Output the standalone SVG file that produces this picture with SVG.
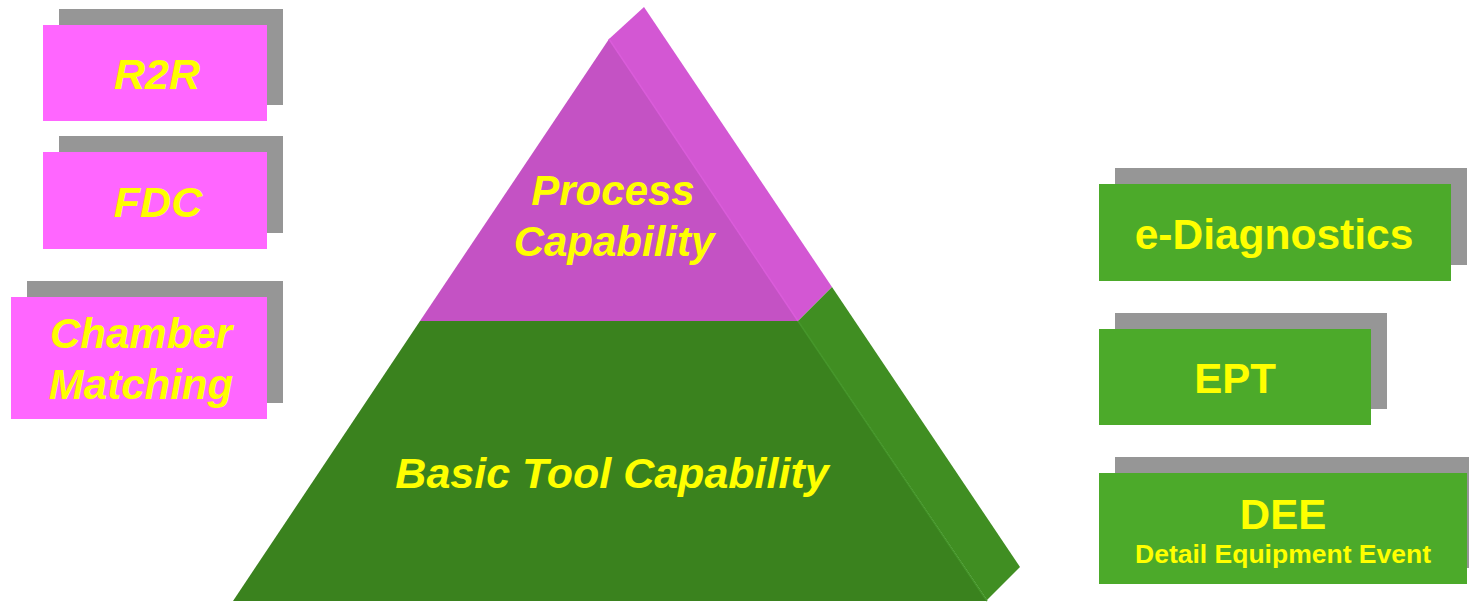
<svg xmlns="http://www.w3.org/2000/svg" width="1469" height="602" viewBox="0 0 1469 602">
<style>
.sh{fill:#969696}
.pk{fill:#FF66FF}
.gr{fill:#4CAA2A}
.t{font-family:"Liberation Sans",Arial,sans-serif;font-weight:bold;fill:#FFFF00;text-anchor:middle}
.i{font-style:italic}
</style>
<rect width="1469" height="602" fill="#FFFFFF"/>
<g id="pyramid">
<polygon points="609,39 644,7 832,287 798,321" fill="#D357D3"/>
<polygon points="798,321 832,287 1020,567 987,600" fill="#408E22"/>
<polygon points="609,39 798,321 420,321" fill="#C452C4"/>
<polygon points="420,321 798,321 987,601 233,601" fill="#3A821E"/>
<line x1="609" y1="39" x2="798" y2="321" stroke="#DA5CDA" stroke-width="1.5"/>
<line x1="798" y1="321" x2="987" y2="601" stroke="#45962A" stroke-width="1.5"/>
<text class="t i" x="613" y="205" font-size="42">Process</text>
<text class="t i" x="614" y="256" font-size="42">Capability</text>
<text class="t i" x="612" y="488" font-size="43">Basic Tool Capability</text>
</g>
<g id="r2r">
<rect class="sh" x="59" y="9" width="224" height="96"/>
<rect class="pk" x="43" y="25" width="224" height="96"/>
<text class="t i" x="157" y="89" font-size="43">R2R</text>
</g>
<g id="fdc">
<rect class="sh" x="59" y="136" width="224" height="97"/>
<rect class="pk" x="43" y="152" width="224" height="97"/>
<text class="t i" x="158" y="217" font-size="43">FDC</text>
</g>
<g id="chamber">
<rect class="sh" x="27" y="281" width="256" height="122"/>
<rect class="pk" x="11" y="297" width="256" height="122"/>
<text class="t i" x="141" y="348" font-size="42">Chamber</text>
<text class="t i" x="141" y="399" font-size="42">Matching</text>
</g>
<g id="ediag">
<rect class="sh" x="1115" y="168" width="352" height="97"/>
<rect class="gr" x="1099" y="184" width="352" height="97"/>
<text class="t" x="1274" y="249" font-size="42.5">e-Diagnostics</text>
</g>
<g id="ept">
<rect class="sh" x="1115" y="313" width="272" height="96"/>
<rect class="gr" x="1099" y="329" width="272" height="96"/>
<text class="t" x="1235" y="393" font-size="42">EPT</text>
</g>
<g id="dee">
<rect class="sh" x="1115" y="457" width="354" height="111"/>
<rect class="gr" x="1099" y="473" width="368" height="111"/>
<text class="t" x="1283" y="529" font-size="42">DEE</text>
<text class="t" x="1283" y="563" font-size="26.5">Detail Equipment Event</text>
</g>
<g id="connectors"></g>
</svg>
